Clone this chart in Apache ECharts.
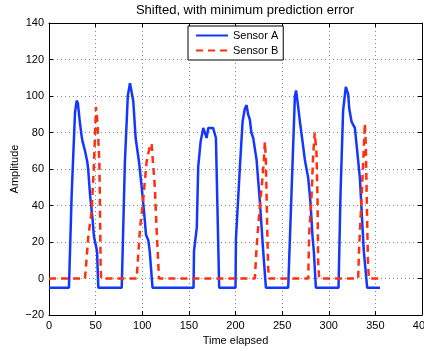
<!DOCTYPE html>
<html><head><meta charset="utf-8">
<script src="https://cdn.jsdelivr.net/npm/echarts@6/dist/echarts.min.js"></script>
<style>html,body{margin:0;padding:0;background:#fff}#c{width:424px;height:351px}</style>
</head><body><div id="c"></div>
<script>
var titleText = 'Shifted, with minimum prediction error';
var xLabel = 'Time elapsed';
var yLabel = 'Amplitude';
var seriesNames = ['Sensor A', 'Sensor B'];

var sensorA_x = [0,21.4,24.3,27.9,29.7,31,33,35,36,37,38.6,41,42,44,46.8,48.2,50,51.5,52.9,
  78,81.4,84.5,86.8,88,90.4,92.9,96.5,99.4,102.2,104,106.5,108,110,111,
  155,155.5,157,158.5,160,162.6,165.4,167,169,170.8,176,179,182.5,
  200,200.5,202,204.7,207.6,210,211.9,213.5,215.4,217,219,222.6,226,228,229.7,231.5,232.6,
  256.5,260,263.7,265,267,268.8,271.9,274.4,278,280.5,282.6,284,285.5,286.2,
  310.5,312.6,315.4,318.3,320.8,322,324.4,328,329.8,333.4,336.2,337.6,339.7,341.2,355];
var sensorA_y = [-5,-5,46,91,97.5,96,86,78,75,74,70,64,60,46,32,23,22,15,-5,
  -5,64,100,107,104,97,77,64,50,35,24,21,15,15,-5,
  -5,15,15,28,61,75,82.5,82,77,82.5,82.5,77,-5,
  -5,22,23,61,86,93,95,90,87,80,77,65,43,28,15,14,-5,
  -5,46,100,103,95,87,75,65,55,41,23,15,14,-5,
  -5,46,92,105,101,93,86,82.5,73.5,55,28,15,14,-5,-5];

var sensorB_x = [0,38.6,42.1,45.7,48,50.4,52,54,54.7,55.4,56,
  94,97.7,101,104.7,108.2,110,111,113.5,115.3,117,118,
  220.8,222.6,225.4,228,230.4,231.5,232.6,234,235,236,
  278,279,281.6,283.3,285,286.9,288,288.6,289.7,
  331.5,332.6,335,337,338.7,339.7,341,342,343,355];
var sensorB_y = [0,0,22.6,37,60,94,85,64,37,5,0,
  0,28,43,64,72.5,74,73,50,28,10,0,
  0,17,35,50,64,75,64,28,6,0,
  0,24.5,46,68,80,68,42.6,10,0,
  0,17,42.6,64,85,73.5,37,10,0,0];

function pairs(xs, ys){ return xs.map(function(x,i){ return [x, ys[i]]; }); }

var font = 'Liberation Sans, Arial, Helvetica, sans-serif';
var chart = echarts.init(document.getElementById('c'), null, {renderer:'canvas'});
var gridLine = {show:true, lineStyle:{color:'#888', type:[1,3], width:1}};
var tick = {show:true, inside:true, length:4, lineStyle:{color:'#000'}};
chart.setOption({
  animation:false,
  backgroundColor:'#fff',
  title:{text:titleText, left:240, textAlign:'center', top:-1,
    textStyle:{fontFamily:font, fontSize:13, fontWeight:'normal', color:'#000'}},
  legend:{data:seriesNames, orient:'vertical', left:188, top:26,
    borderColor:'#000', borderWidth:1, backgroundColor:'#fff',
    padding:[4,5,4,7], itemGap:4, itemWidth:32, itemHeight:10,
    itemStyle:{opacity:0},
    textStyle:{fontFamily:font, fontSize:11, color:'#000'}},
  grid:{left:49, right:2, top:23, bottom:36, containLabel:false, outerBoundsMode:'none'},
  xAxis:[{type:'value', min:0, max:400, interval:50, position:'bottom',
    name:xLabel, nameLocation:'middle', nameGap:20, nameMoveOverlap:false,
    nameTextStyle:{fontFamily:font, fontSize:11, color:'#000'},
    axisLine:{show:true, onZero:false, lineStyle:{color:'#000', width:1}},
    axisTick:tick,
    axisLabel:{fontFamily:font, fontSize:11, color:'#000', margin:5, showMaxLabel:true, hideOverlap:false},
    splitLine:gridLine},
   {type:'value', min:0, max:400, interval:50, position:'top',
    axisLine:{show:true, onZero:false, lineStyle:{color:'#000', width:1}},
    axisTick:tick, axisLabel:{show:false}, splitLine:{show:false}}],
  yAxis:[{type:'value', min:-20, max:140, interval:20, position:'left',
    name:yLabel, nameLocation:'middle', nameGap:29, nameRotate:90, nameMoveOverlap:false,
    nameTextStyle:{fontFamily:font, fontSize:11, color:'#000'},
    axisLine:{show:true, onZero:false, lineStyle:{color:'#000', width:1}},
    axisTick:tick,
    axisLabel:{fontFamily:font, fontSize:11, color:'#000', margin:5,
      formatter:function(v){ return v<0 ? '\u2212'+Math.abs(v) : String(v); }},
    splitLine:gridLine},
   {type:'value', min:-20, max:140, interval:20, position:'right',
    axisLine:{show:true, onZero:false, lineStyle:{color:'#000', width:1}},
    axisTick:tick, axisLabel:{show:false}, splitLine:{show:false}}],
  series:[
    {name:seriesNames[0], type:'line', data:pairs(sensorA_x, sensorA_y),
     showSymbol:false, symbol:'none', color:'#1437ff',
     lineStyle:{color:'#1437ff', width:2.5}},
    {name:seriesNames[1], type:'line', data:pairs(sensorB_x, sensorB_y),
     showSymbol:false, symbol:'none', color:'#ff2f0f',
     lineStyle:{color:'#ff2f0f', width:2.5, type:[7,5]}}
  ]
});
</script></body></html>
